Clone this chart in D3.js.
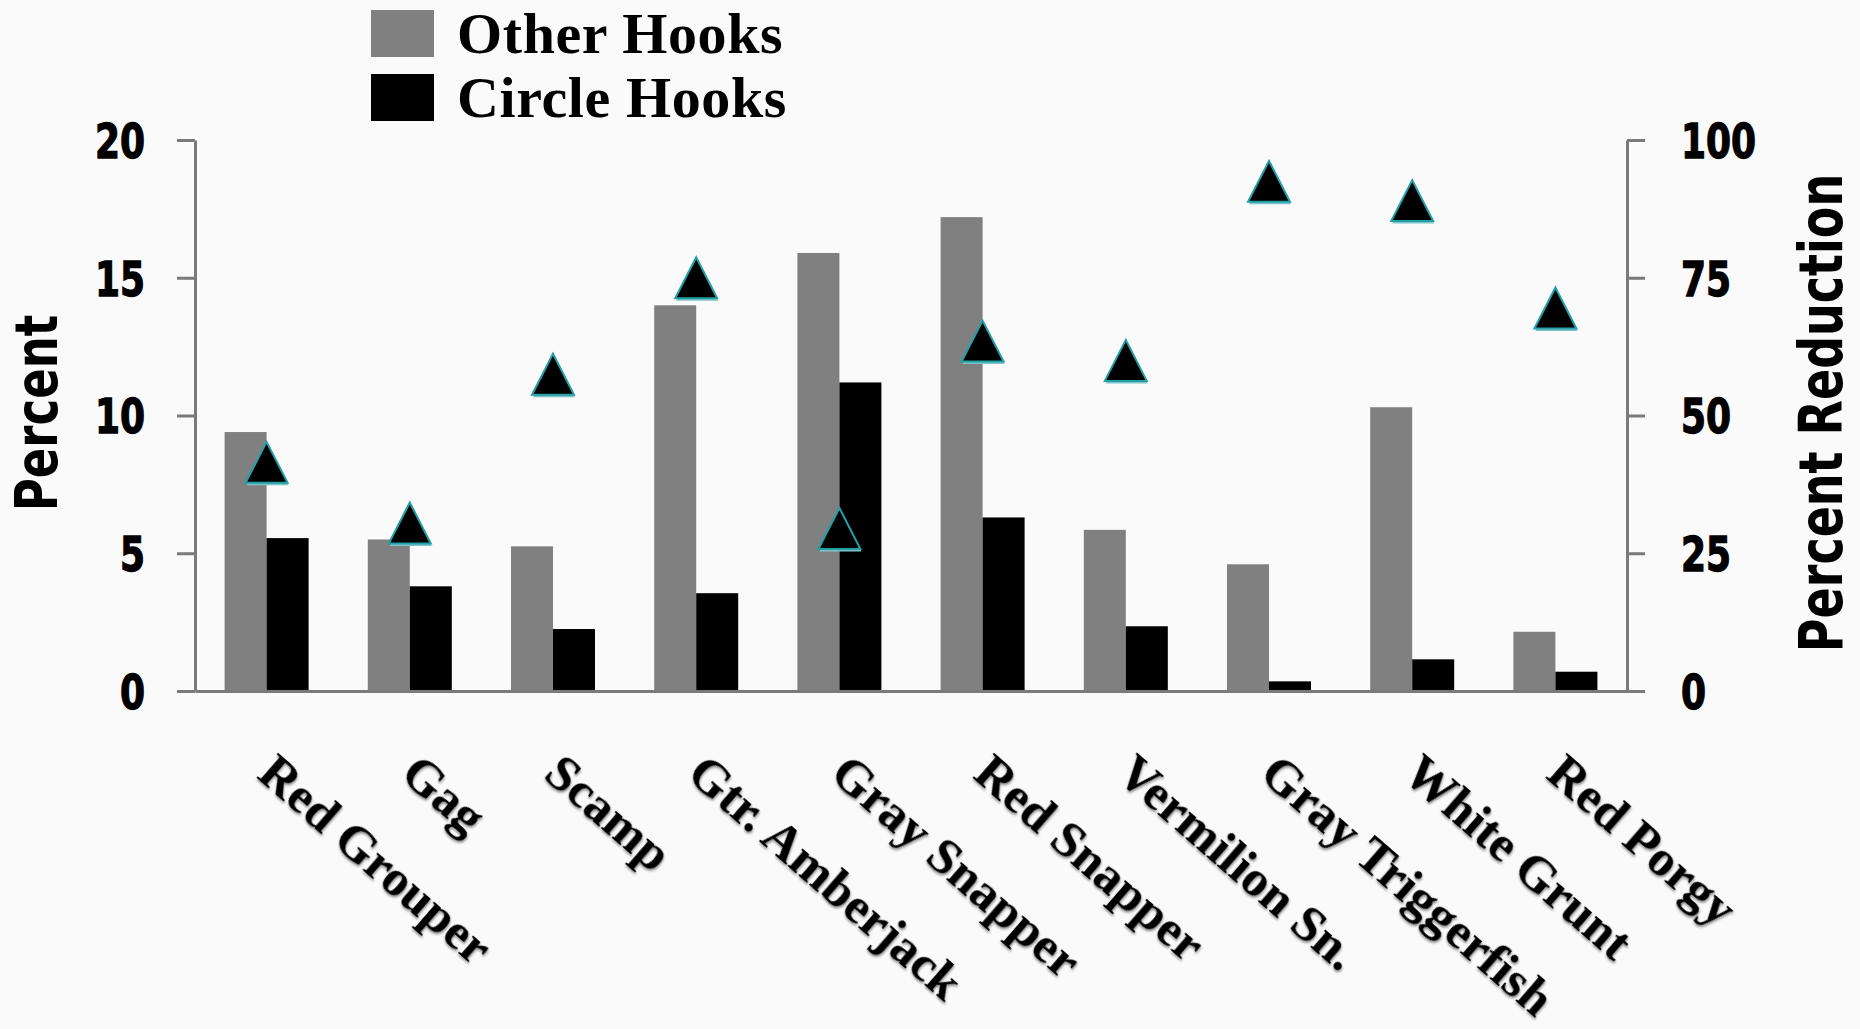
<!DOCTYPE html>
<html>
<head>
<meta charset="utf-8">
<script src="https://cdn.jsdelivr.net/npm/d3@7/dist/d3.min.js"></script>
<style>
  html, body { margin: 0; padding: 0; background: #fafafa; }
  svg { display: block; }
</style>
</head>
<body>
<svg id="chart" width="1860" height="1029"></svg>
<script>
// Species sampled
const categories = ["Red Grouper", "Gag", "Scamp", "Gtr. Amberjack", "Gray Snapper",
  "Red Snapper", "Vermilion Sn.", "Gray Triggerfish", "White Grunt", "Red Porgy"];
// Percent of fish affected, by hook type (left axis)
const otherHooks  = [9.4, 5.5, 5.25, 14.0, 15.9, 17.2, 5.85, 4.6, 10.3, 2.15];
const circleHooks = [5.55, 3.8, 2.25, 3.55, 11.2, 6.3, 2.35, 0.35, 1.15, 0.7];
// Percent reduction with circle hooks (right axis)
const percentReduction = [41.5, 30.5, 57.5, 75, 29.5, 63.5, 60, 92.5, 89, 69.5];
// Axis ticks
const leftTicks = [0, 5, 10, 15, 20];
const rightTicks = [0, 25, 50, 75, 100];
const seriesNames = ["Other Hooks", "Circle Hooks"];
const seriesColors = ["#808080", "#000000"];

const svg = d3.select("#chart");
const plot = { left: 195, right: 1627, top: 140, bottom: 691 };

const x = d3.scaleBand().domain(categories).range([plot.left, plot.right]).padding(0);
const bw = x.bandwidth();
const xSub = d3.scaleBand().domain(seriesNames).range([bw / 2 - 42, bw / 2 + 42]).padding(0);
const yL = d3.scaleLinear().domain([0, 20]).range([plot.bottom, plot.top]);
const yR = d3.scaleLinear().domain([0, 100]).range([plot.bottom, plot.top]);
const color = d3.scaleOrdinal().domain(seriesNames).range(seriesColors);

const defs = svg.append("defs");
const shadow = defs.append("filter").attr("id", "labelShadow")
  .attr("x", "-10%").attr("y", "-10%").attr("width", "130%").attr("height", "130%");
shadow.append("feDropShadow").attr("dx", 1.5).attr("dy", 1.5)
  .attr("stdDeviation", 1).attr("flood-color", "#000").attr("flood-opacity", 0.45);

// Bars
const rows = categories.map((c, i) => ({ cat: c, vals: [otherHooks[i], circleHooks[i]] }));
const groups = svg.append("g").selectAll("g").data(rows).join("g")
  .attr("transform", d => `translate(${x(d.cat)},0)`);
groups.selectAll("rect")
  .data(d => d.vals.map((v, j) => ({ key: seriesNames[j], v })))
  .join("rect")
  .attr("x", d => xSub(d.key))
  .attr("width", xSub.bandwidth())
  .attr("y", d => yL(d.v))
  .attr("height", d => yL(0) - yL(d.v))
  .attr("fill", d => color(d.key));

// Axes
const axisColor = "#7a7a7a";
const gL = svg.append("g").attr("transform", `translate(${plot.left},0)`)
  .call(d3.axisLeft(yL).tickValues(leftTicks).tickSize(18).tickSizeOuter(0));
const gR = svg.append("g").attr("transform", `translate(${plot.right},0)`)
  .call(d3.axisRight(yR).tickValues(rightTicks).tickSize(18).tickSizeOuter(0));
const gB = svg.append("g").attr("transform", `translate(0,${plot.bottom})`)
  .call(d3.axisBottom(x).tickSize(0).tickSizeOuter(0).tickFormat(""));

[gL, gR, gB].forEach(g => {
  g.selectAll(".domain").attr("stroke", axisColor).attr("stroke-width", 3);
  g.selectAll(".tick line").attr("stroke", axisColor).attr("stroke-width", 3);
});
gB.selectAll(".tick text").remove();

function styleTickText(g, xPos, anchor) {
  g.selectAll(".tick text")
    .attr("x", xPos).attr("dy", null).attr("y", 13)
    .attr("transform", "scale(1,1.33)")
    .attr("text-anchor", anchor)
    .attr("fill", "#000")
    .attr("stroke", "#000")
    .attr("stroke-width", 1)
    .style("font-family", "'DejaVu Sans', sans-serif")
    .style("font-weight", "bold")
    .style("font-size", "36px");
}
styleTickText(gL, -50, "end");
styleTickText(gR, 54, "start");

// Percent reduction markers (triangles)
const triW = 42, triH = 41;
const triPath = (cx, cy) =>
  `M${cx},${cy - triH / 2}L${cx + triW / 2},${cy + triH / 2}L${cx - triW / 2},${cy + triH / 2}Z`;
const markers = svg.append("g");
markers.selectAll("path.shadow").data(percentReduction).join("path")
  .attr("class", "shadow")
  .attr("d", (d, i) => triPath(x(categories[i]) + bw / 2 + 1, yR(d) + 2.5))
  .attr("fill", "#7cc3c7");
markers.selectAll("path.tri").data(percentReduction).join("path")
  .attr("class", "tri")
  .attr("d", (d, i) => triPath(x(categories[i]) + bw / 2, yR(d)))
  .attr("fill", "#000")
  .attr("stroke", "#23a0a6")
  .attr("stroke-width", 2)
  .attr("stroke-linejoin", "miter");

// Category labels, slanted
svg.append("g").selectAll("text").data(categories).join("text")
  .attr("transform", d => `translate(${x(d) + bw / 2 - 11},777) rotate(41)`)
  .attr("text-anchor", "start")
  .attr("fill", "#000")
  .attr("filter", "url(#labelShadow)")
  .style("font-family", "'Liberation Serif', 'Times New Roman', serif")
  .style("font-weight", "bold")
  .style("font-size", "51px")
  .text(d => d);

// Axis titles
const titleStyle = sel => sel
  .attr("text-anchor", "middle")
  .attr("fill", "#000")
  .style("font-family", "'DejaVu Sans', sans-serif")
  .style("font-weight", "bold")
  .style("font-size", "45px");
svg.append("g").attr("transform", "translate(36,413) rotate(-90) scale(1,1.3)")
  .append("text").attr("y", 16).call(titleStyle).text("Percent");
svg.append("g").attr("transform", "translate(1821,413) rotate(-90) scale(1,1.3)")
  .append("text").attr("y", 16).call(titleStyle).style("font-size", "46px").text("Percent Reduction");

// Legend
const legend = svg.append("g");
const legItems = legend.selectAll("g").data(seriesNames).join("g")
  .attr("transform", (d, i) => `translate(371,${10 + i * 64})`);
legItems.append("rect").attr("width", 63).attr("height", 47).attr("fill", d => color(d));
legItems.append("text")
  .attr("x", 86).attr("y", 43)
  .attr("fill", "#000")
  .style("font-family", "'Liberation Serif', 'Times New Roman', serif")
  .style("font-weight", "bold")
  .style("font-size", "58px")
  .style("letter-spacing", "0.6px")
  .text(d => d);
</script>
</body>
</html>
